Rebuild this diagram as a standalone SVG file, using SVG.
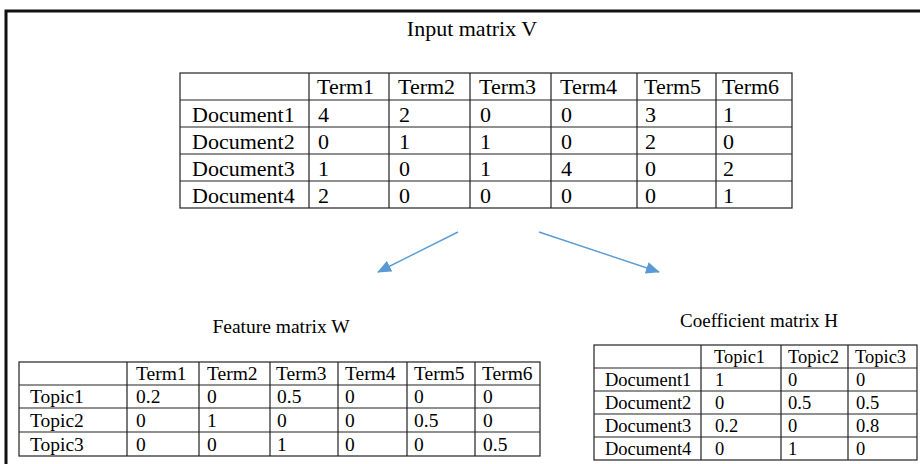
<svg xmlns="http://www.w3.org/2000/svg" width="920" height="464" viewBox="0 0 920 464">
  <defs>
    <style>
      .frame { fill: none; stroke: #111; stroke-width: 3; }
      .grid { fill: none; stroke: #222; stroke-width: 1.2; }
      .t { font-family: "Liberation Serif", "Times New Roman", serif; fill: #000; }
      .big { font-size: 22px; }
      .mid { font-size: 19.5px; }
      .sm { font-size: 18.5px; }
      .title { font-family: "Liberation Serif", "Times New Roman", serif; fill: #000; text-anchor: middle; }
      .conn { fill: none; stroke: #5b9bd5; stroke-width: 1.4; }
    </style>
    <marker id="arrow" viewBox="0 0 14 12" refX="13" refY="6" markerWidth="14" markerHeight="12" markerUnits="userSpaceOnUse" orient="auto">
      <path d="M0,0 L14,6 L0,12 Z" fill="#5b9bd5"/>
    </marker>
  </defs>

  <rect width="920" height="464" fill="#fff"/>
  <!-- outer frame: left and top edges only -->
  <path class="frame" d="M6,464 V11 H920"/>

  <!-- Input matrix V -->
  <g id="matrix-v">
    <text class="title" x="472" y="36" font-size="22">Input matrix V</text>
    <rect class="grid" x="180" y="73" width="612" height="135"/>
    <path class="grid" d="M180,100 H792 M180,127 H792 M180,154 H792 M180,181 H792 M309,73 V208 M389,73 V208 M470,73 V208 M551,73 V208 M637,73 V208 M716,73 V208"/>
    <g class="t big">
      <text x="317" y="94">Term1</text><text x="398" y="94">Term2</text><text x="479" y="94">Term3</text>
      <text x="560" y="94">Term4</text><text x="644" y="94">Term5</text><text x="722" y="94">Term6</text>

      <text x="192" y="122">Document1</text>
      <text x="318" y="122">4</text><text x="399" y="122">2</text><text x="480" y="122">0</text>
      <text x="561" y="122">0</text><text x="645" y="122">3</text><text x="723" y="122">1</text>

      <text x="192" y="149">Document2</text>
      <text x="318" y="149">0</text><text x="399" y="149">1</text><text x="480" y="149">1</text>
      <text x="561" y="149">0</text><text x="645" y="149">2</text><text x="723" y="149">0</text>

      <text x="192" y="176">Document3</text>
      <text x="318" y="176">1</text><text x="399" y="176">0</text><text x="480" y="176">1</text>
      <text x="561" y="176">4</text><text x="645" y="176">0</text><text x="723" y="176">2</text>

      <text x="192" y="203">Document4</text>
      <text x="318" y="203">2</text><text x="399" y="203">0</text><text x="480" y="203">0</text>
      <text x="561" y="203">0</text><text x="645" y="203">0</text><text x="723" y="203">1</text>
    </g>
  </g>

  <!-- connectors -->
  <g id="connectors">
    <line class="conn" x1="458" y1="232" x2="378" y2="272" marker-end="url(#arrow)"/>
    <line class="conn" x1="539" y1="232" x2="659" y2="272" marker-end="url(#arrow)"/>
  </g>

  <!-- Feature matrix W -->
  <g id="matrix-w">
    <text class="title" x="281" y="333" font-size="19.5">Feature matrix W</text>
    <rect class="grid" x="19" y="362" width="521" height="94"/>
    <path class="grid" d="M19,385 H540 M19,408 H540 M19,432 H540 M127,362 V456 M199,362 V456 M270,362 V456 M338,362 V456 M407,362 V456 M475,362 V456"/>
    <g class="t mid">
      <text x="136" y="380">Term1</text><text x="207" y="380">Term2</text><text x="276" y="380">Term3</text>
      <text x="345" y="380">Term4</text><text x="414" y="380">Term5</text><text x="482" y="380">Term6</text>

      <text x="30" y="403">Topic1</text>
      <text x="136" y="403">0.2</text><text x="207" y="403">0</text><text x="277" y="403">0.5</text>
      <text x="345" y="403">0</text><text x="414" y="403">0</text><text x="483" y="403">0</text>

      <text x="30" y="427">Topic2</text>
      <text x="136" y="427">0</text><text x="207" y="427">1</text><text x="277" y="427">0</text>
      <text x="345" y="427">0</text><text x="414" y="427">0.5</text><text x="483" y="427">0</text>

      <text x="30" y="451">Topic3</text>
      <text x="136" y="451">0</text><text x="207" y="451">0</text><text x="277" y="451">1</text>
      <text x="345" y="451">0</text><text x="414" y="451">0</text><text x="483" y="451">0.5</text>
    </g>
  </g>

  <!-- Coefficient matrix H -->
  <g id="matrix-h">
    <text class="title" x="759" y="327" font-size="19">Coefficient matrix H</text>
    <rect class="grid" x="594" y="345" width="323" height="115"/>
    <path class="grid" d="M594,368 H917 M594,391 H917 M594,414 H917 M594,437 H917 M701,345 V460 M781,345 V460 M848,345 V460"/>
    <g class="t sm">
      <text x="714" y="363">Topic1</text><text x="788" y="363">Topic2</text><text x="855" y="363">Topic3</text>

      <text x="605" y="386">Document1</text>
      <text x="715" y="386">1</text><text x="788" y="386">0</text><text x="856" y="386">0</text>

      <text x="605" y="409">Document2</text>
      <text x="715" y="409">0</text><text x="788" y="409">0.5</text><text x="856" y="409">0.5</text>

      <text x="605" y="432">Document3</text>
      <text x="715" y="432">0.2</text><text x="788" y="432">0</text><text x="856" y="432">0.8</text>

      <text x="605" y="455">Document4</text>
      <text x="715" y="455">0</text><text x="788" y="455">1</text><text x="856" y="455">0</text>
    </g>
  </g>
</svg>
